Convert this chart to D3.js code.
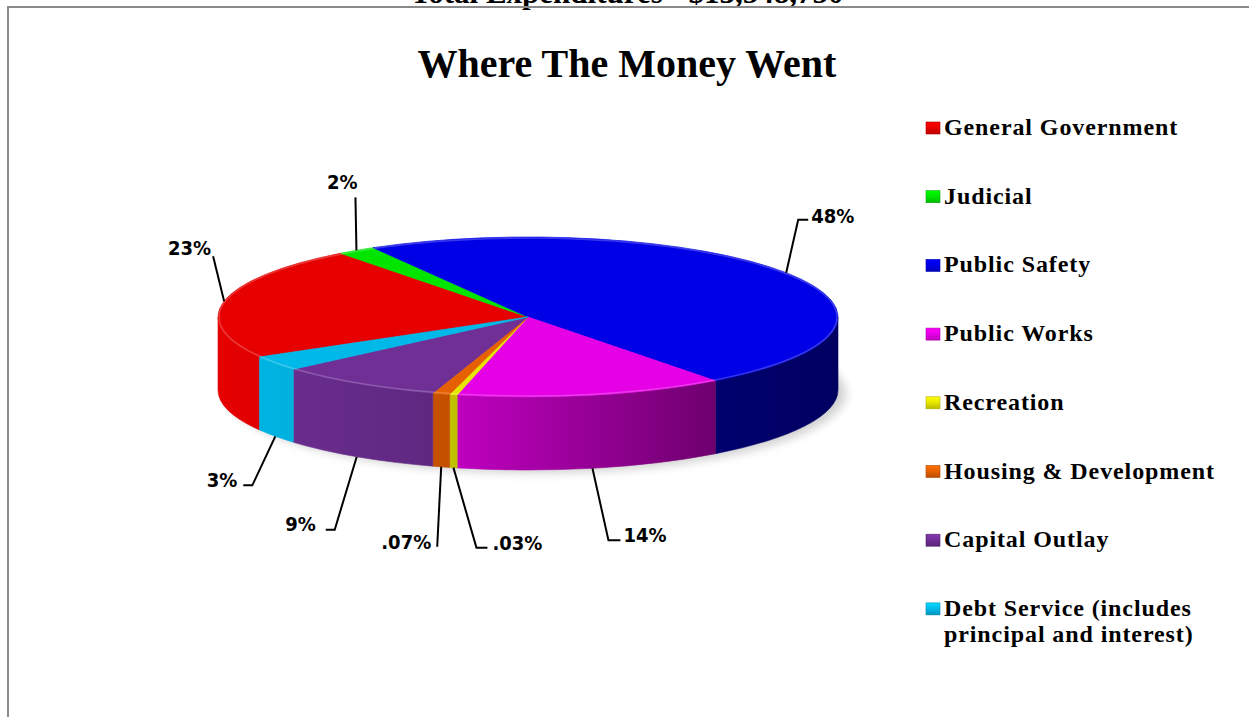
<!DOCTYPE html>
<html lang="en">
<head>
    <meta charset="UTF-8">
    <title>Where The Money Went</title>
    <script src="https://d3js.org/d3.v7.min.js"></script>
    <style>
        body { margin: 0; background: #fff; }
        svg { display: block; }
    </style>
</head>
<body>
<svg id="chart" width="1249" height="717"></svg>
<script>
    // data (slice sizes, labels as printed)
    const categories = ['General Government', 'Judicial', 'Public Safety', 'Public Works', 'Recreation',
        'Housing & Development', 'Capital Outlay', 'Debt Service (includes\nprincipal and interest)'];
    const shares = [23, 2, 48, 14, 0.4, 0.9, 8.7, 3];
    const shareLabels = ['23%', '2%', '48%', '14%', '.03%', '.07%', '9%', '3%'];
    const colors = ['#e60000', '#00e400', '#0000e6', '#e600e6', '#e6e600', '#e65f00', '#6f2f95', '#00b9e9'];

    // leader line layout (offset from rim anchor): elbow dx, dy, horizontal tail, gap to text, baseline shift
    const labelLayout = [
        {dx: -11, dy: -45, tail: 0, gap: -2, by: -1, anchor: 'end'},
        {dx: -1, dy: -53, tail: 0, gap: 2, by: -8, anchor: 'end'},
        {dx: 12, dy: -53, tail: 10, gap: 3, by: 3, anchor: 'start'},
        {dx: 16, dy: 72, tail: 12, gap: 3, by: 2, anchor: 'start'},
        {dx: 23, dy: 80, tail: 11, gap: 5, by: 2, anchor: 'start'},
        {dx: -4, dy: 80, tail: 0, gap: -6, by: 2, anchor: 'end'},
        {dx: -22, dy: 73, tail: -9, gap: -10, by: 1, anchor: 'end'},
        {dx: -23, dy: 49, tail: -9, gap: -6, by: 2, anchor: 'end'}
    ];

    const svg = d3.select('#chart');
    const defs = svg.append('defs');

    const cx = 528, cy = 317, rx = 310, ry = 80, depth = 73;
    const deg = Math.PI / 180;

    // frame + cut-off page heading
    svg.append('text')
        .attr('x', 627).attr('y', 3)
        .attr('text-anchor', 'middle')
        .style('font', 'bold 31px "Liberation Serif", serif')
        .text('Total Expenditures - $13,548,750');
    svg.append('line').attr('x1', 7).attr('x2', 1249).attr('y1', 7).attr('y2', 7)
        .attr('stroke', '#8a8a8a').attr('stroke-width', 2);
    svg.append('line').attr('x1', 8).attr('x2', 8).attr('y1', 6).attr('y2', 717)
        .attr('stroke', '#8a8a8a').attr('stroke-width', 2);

    svg.append('text')
        .attr('x', 627).attr('y', 77)
        .attr('text-anchor', 'middle')
        .style('font', 'bold 40px "Liberation Serif", serif')
        .text('Where The Money Went');

    const pie = d3.pie().sort(null).value(d => d)
        .startAngle(240 * deg).endAngle(240 * deg + 2 * Math.PI);
    const slices = pie(shares);

    function pt(a, dy) {
        return [cx + rx * Math.sin(a), cy - ry * Math.cos(a) + (dy || 0)];
    }

    // shadow under the pie
    const blur = defs.append('filter').attr('id', 'shadowBlur')
        .attr('x', '-20%').attr('y', '-50%').attr('width', '140%').attr('height', '200%');
    blur.append('feGaussianBlur').attr('stdDeviation', 5);
    svg.append('ellipse')
        .attr('cx', cx + 8).attr('cy', cy + depth + 3)
        .attr('rx', rx).attr('ry', ry)
        .attr('fill', '#000').attr('opacity', 0.18)
        .attr('filter', 'url(#shadowBlur)');

    // side shading: bright on the left, dark on the right
    const shadeStops = [[0, 1.0], [0.35, 0.86], [0.8, 0.48], [1, 0.42]];
    colors.forEach((c, i) => {
        const g = defs.append('linearGradient').attr('id', 'side' + i)
            .attr('gradientUnits', 'userSpaceOnUse')
            .attr('x1', cx - rx).attr('x2', cx + rx).attr('y1', 0).attr('y2', 0);
        const base = d3.rgb(c);
        g.selectAll('stop').data(shadeStops).join('stop')
            .attr('offset', d => d[0])
            .attr('stop-color', d => d3.rgb(base.r * d[1], base.g * d[1], base.b * d[1]).formatHex());
    });

    // visible side wall of a slice (front half only)
    function sidePath(a0, a1) {
        const ranges = [[90 * deg, 270 * deg], [450 * deg, 630 * deg]];
        let p = '';
        ranges.forEach(([r0, r1]) => {
            const s = Math.max(a0, r0), e = Math.min(a1, r1);
            if (e <= s) return;
            const p0 = pt(s), p1 = pt(e), p2 = pt(e, depth), p3 = pt(s, depth);
            p += `M${p0}A${rx},${ry} 0 0 1 ${p1}L${p2}A${rx},${ry} 0 0 0 ${p3}Z`;
        });
        return p;
    }

    svg.append('g').selectAll('path').data(slices).join('path')
        .attr('d', d => sidePath(d.startAngle, d.endAngle))
        .attr('fill', (d, i) => `url(#side${i})`)
        .attr('stroke', (d, i) => `url(#side${i})`)
        .attr('stroke-width', 0.6);

    const arc = d3.arc().innerRadius(0).outerRadius(rx);
    const topFace = svg.append('g').attr('transform', `translate(${cx},${cy}) scale(1,${ry / rx})`);
    topFace.selectAll('path').data(slices).join('path')
        .attr('d', arc)
        .attr('fill', (d, i) => colors[i])
        .attr('stroke', (d, i) => colors[i])
        .attr('stroke-width', 0.7)
        .attr('vector-effect', 'non-scaling-stroke');
    // faint bevel on the rim of the top face
    svg.append('ellipse')
        .attr('cx', cx).attr('cy', cy).attr('rx', rx - 1).attr('ry', ry - 1)
        .attr('fill', 'none').attr('stroke', '#fff').attr('stroke-opacity', 0.22).attr('stroke-width', 1.5);

    // leader lines and percent labels
    const labels = svg.append('g');
    slices.forEach((d, i) => {
        const m = (d.startAngle + d.endAngle) / 2;
        const front = Math.cos(m) < 0;
        const a = pt(m, front ? depth : 0);
        const L = labelLayout[i];
        const elbow = [a[0] + L.dx, a[1] + L.dy];
        const tailEnd = [elbow[0] + L.tail, elbow[1]];
        labels.append('path')
            .attr('d', d3.line()([a, elbow, tailEnd]))
            .attr('fill', 'none').attr('stroke', '#000').attr('stroke-width', 2);
        labels.append('text')
            .attr('x', tailEnd[0] + L.gap)
            .attr('y', tailEnd[1] + L.by)
            .attr('text-anchor', L.anchor)
            .style('font', 'bold 20px "DejaVu Sans Condensed", "DejaVu Sans", sans-serif')
            .attr('fill', '#000')
            .text(shareLabels[i]);
    });

    // legend
    colors.forEach((c, i) => {
        const g = defs.append('linearGradient').attr('id', 'key' + i)
            .attr('x1', 0).attr('x2', 0).attr('y1', 0).attr('y2', 1);
        g.append('stop').attr('offset', 0).attr('stop-color', d3.rgb(c).brighter(0.5));
        g.append('stop').attr('offset', 0.5).attr('stop-color', c);
        g.append('stop').attr('offset', 1).attr('stop-color', d3.rgb(c).darker(0.6));
    });
    const legend = svg.append('g').selectAll('g').data(categories).join('g')
        .attr('transform', (d, i) => `translate(926,${135 + i * 68.7})`);
    legend.append('rect')
        .attr('x', 0).attr('y', -13).attr('width', 14).attr('height', 12)
        .attr('fill', (d, i) => `url(#key${i})`)
        .attr('stroke', (d, i) => d3.rgb(colors[i]).darker(0.8))
        .attr('stroke-width', 0.6);
    legend.append('text')
        .attr('x', 18)
        .style('font', 'bold 24px "Liberation Serif", serif')
        .style('letter-spacing', '0.9px')
        .attr('fill', '#000')
        .selectAll('tspan').data(d => d.split('\n')).join('tspan')
        .attr('x', 18)
        .attr('y', (d, j) => j * 26)
        .text(d => d);
</script>
</body>
</html>
